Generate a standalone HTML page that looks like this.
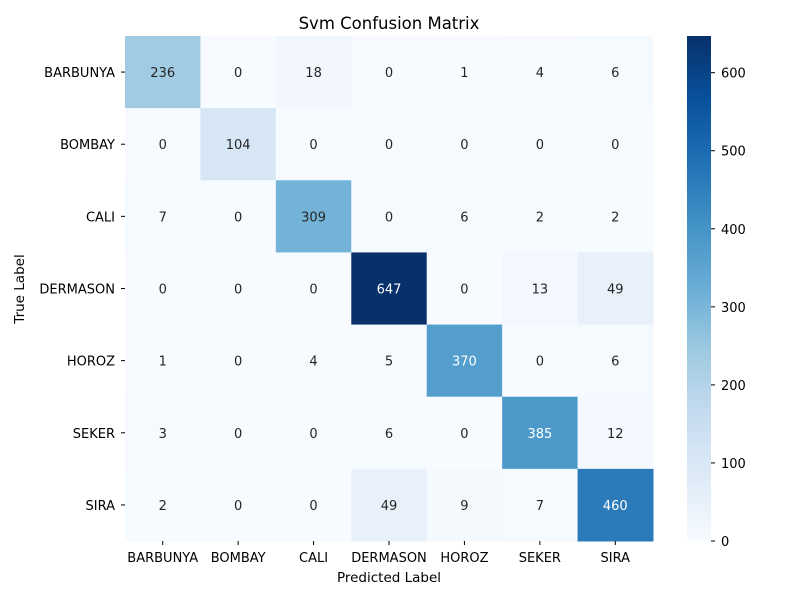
<!DOCTYPE html>
<html><head><meta charset="utf-8"><style>
body{margin:0;background:#fff;}
svg text{font-family:"DejaVu Sans","Liberation Sans",sans-serif;}
</style></head><body>
<svg id="chart" width="800" height="600" xmlns="http://www.w3.org/2000/svg">
<defs><linearGradient id="cbgrad" x1="0" y1="1" x2="0" y2="0">
<stop offset="0" stop-color="#f7fbff"/><stop offset="0.125" stop-color="#deebf7"/><stop offset="0.25" stop-color="#c6dbef"/><stop offset="0.375" stop-color="#9ecae1"/><stop offset="0.5" stop-color="#6baed6"/><stop offset="0.625" stop-color="#4292c6"/><stop offset="0.75" stop-color="#2171b5"/><stop offset="0.875" stop-color="#08519c"/><stop offset="1" stop-color="#08306b"/>
</linearGradient></defs>
<text x="389" y="29" font-size="16.5" text-anchor="middle">Svm Confusion Matrix</text>
<g id="cells"></g>
<g id="axes"></g>
<rect x="687" y="36" width="24" height="505" fill="url(#cbgrad)"/>
<g id="cbticks"></g>
<text x="389" y="582" font-size="13.5" text-anchor="middle">Predicted Label</text>
<text x="24" y="289" font-size="13.5" text-anchor="middle" transform="rotate(-90 24 289)">True Label</text>
</svg>
<script>
const labels=["BARBUNYA","BOMBAY","CALI","DERMASON","HOROZ","SEKER","SIRA"];
const matrix=[
[236,0,18,0,1,4,6],
[0,104,0,0,0,0,0],
[7,0,309,0,6,2,2],
[0,0,0,647,0,13,49],
[1,0,4,5,370,0,6],
[3,0,0,6,0,385,12],
[2,0,0,49,9,7,460]];
const cbTicks=[0,100,200,300,400,500,600];
const vmin=0,vmax=647;
const X0=125,Y0=36,W=528,H=505,n=labels.length,cw=W/n,ch=H/n;
const stops=["#f7fbff","#deebf7","#c6dbef","#9ecae1","#6baed6","#4292c6","#2171b5","#08519c","#08306b"].map(h=>[1,3,5].map(i=>parseInt(h.substr(i,2),16)));
function color(v){let t=(v-vmin)/(vmax-vmin)*8;let i=Math.min(7,Math.floor(t)),f=t-i;return stops[i].map((c,k)=>Math.round(c+(stops[i+1][k]-c)*f));}
function lum(c){const l=c.map(x=>{x/=255;return x<=0.03928?x/12.92:Math.pow((x+0.055)/1.055,2.4)});return .2126*l[0]+.7152*l[1]+.0722*l[2];}
const NS="http://www.w3.org/2000/svg";
function mk(t,a,p){const e=document.createElementNS(NS,t);for(const k in a)e.setAttribute(k,a[k]);p.appendChild(e);return e;}
const cells=document.getElementById('cells'),axes=document.getElementById('axes'),cb=document.getElementById('cbticks');
matrix.forEach((row,r)=>row.forEach((v,c)=>{
 const col=color(v);
 const rc=mk('rect',{x:X0+c*cw,y:Y0+r*ch,width:cw+0.5,height:ch+0.5,fill:`rgb(${col})`},cells);
 
 
 const t=mk('text',{x:X0+(c+.5)*cw,y:Y0+(r+.5)*ch+5,'font-size':13,'text-anchor':'middle',fill:lum(col)>0.408?'#262626':'#ffffff'},cells);
 t.textContent=v;
 
 
}));
labels.forEach((l,i)=>{
 const cx=X0+(i+.5)*cw;
 mk('line',{x1:cx,x2:cx,y1:Y0+H,y2:Y0+H+4,stroke:'#000'},axes);
 const tx=mk('text',{x:cx,y:Y0+H+21,'font-size':13,'text-anchor':'middle'},axes);
 tx.textContent=l;
 
 
 const cy=Y0+(i+.5)*ch;
 mk('line',{x1:X0-4,x2:X0,y1:cy,y2:cy,stroke:'#000'},axes);
 const ty=mk('text',{x:X0-10,y:cy+5,'font-size':13,'text-anchor':'end'},axes);
 ty.textContent=l;
 
 
});
cbTicks.forEach(v=>{
 const y=Y0+H-(v-vmin)/(vmax-vmin)*H;
 mk('line',{x1:711,x2:715,y1:y,y2:y,stroke:'#000'},cb);
 const t=mk('text',{x:721,y:y+5,'font-size':13},cb);
 t.textContent=v;
 
 
});
</script>
</body></html>
